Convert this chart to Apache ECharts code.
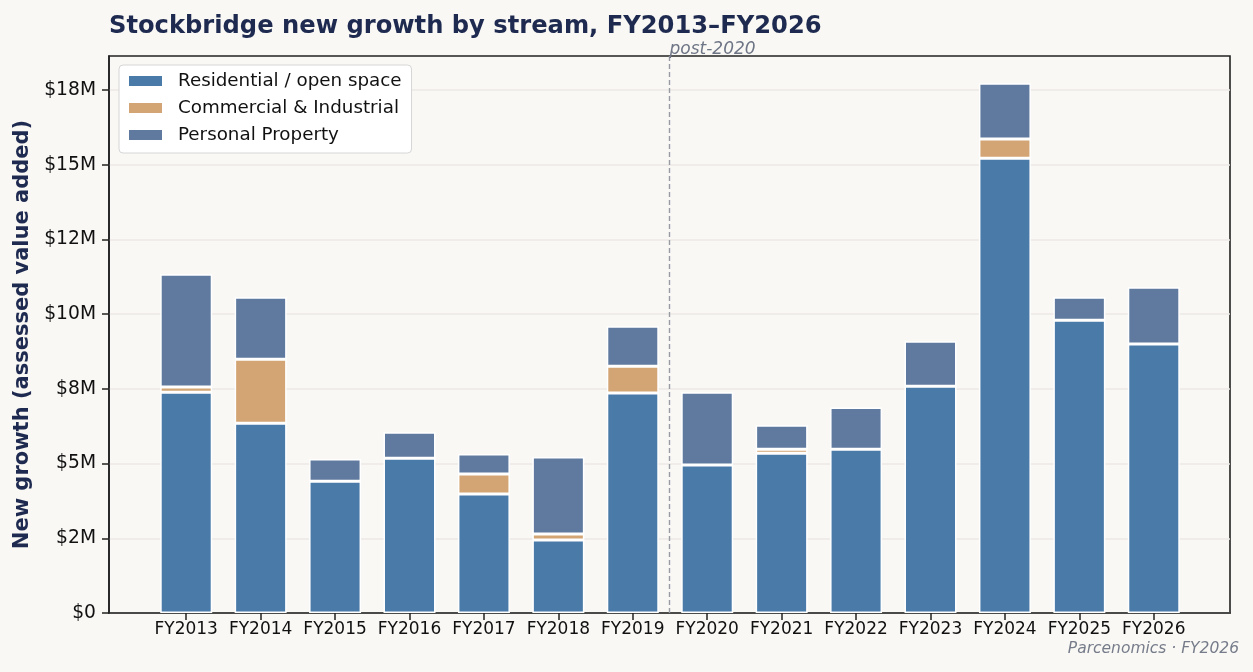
<!DOCTYPE html>
<html><head><meta charset="utf-8">
<script src="https://cdn.jsdelivr.net/npm/echarts@6/dist/echarts.min.js"></script>
<style>html,body{margin:0;padding:0;background:#f9f8f5;}#c{width:1253px;height:672px;}</style>
</head><body><div id="c"></div>
<script>
const categories = ['FY2013','FY2014','FY2015','FY2016','FY2017','FY2018','FY2019','FY2020','FY2021','FY2022','FY2023','FY2024','FY2025','FY2026'];
const residential = [7.39, 6.35, 4.41, 5.18, 3.98, 2.44, 7.36, 4.95, 5.35, 5.48, 7.59, 15.22, 9.80, 9.00];
const commercial  = [0.17, 2.14, 0, 0, 0.67, 0.20, 0.90, 0, 0.13, 0, 0, 0.64, 0, 0];
const personal    = [3.78, 2.08, 0.74, 0.87, 0.67, 2.58, 1.34, 2.44, 0.80, 1.40, 1.50, 1.87, 0.77, 1.90];
const yTickValues = [0, 2.5, 5, 7.5, 10, 12.5, 15, 17.5];
const yTickLabels = ['$0','$2M','$5M','$8M','$10M','$12M','$15M','$18M'];
const seriesNames = ['Residential / open space','Commercial & Industrial','Personal Property'];
const colors = ['#4a7aa8','#d3a574','#5f7a9e'];
const dividerAt = 6.5;
const dividerLabel = 'post-2020';
const yMax = 18.64;

const chart = echarts.init(document.getElementById('c'));
function mk(name, vals, color) {
  return {
    name, type: 'bar', stack: 'g', barWidth: 52, xAxisIndex: 0, yAxisIndex: 0,
    data: vals.map(v => v === 0 ? '-' : v),
    itemStyle: { color, borderColor: '#ffffff', borderWidth: 1.5 },
    emphasis: { disabled: true }
  };
}
chart.setOption({
  backgroundColor: '#f9f8f5',
  animation: false,
  textStyle: { fontFamily: 'DejaVu Sans' },
  title: {
    text: 'Stockbridge new growth by stream, FY2013\u2013FY2026',
    left: 104, top: 10,
    textStyle: { fontSize: 24.2, fontWeight: 'bold', color: '#1e2a4f', fontFamily: 'DejaVu Sans' }
  },
  legend: {
    left: 119, top: 65, orient: 'vertical', itemGap: 9,
    itemWidth: 35, itemHeight: 12, icon: 'rect',
    backgroundColor: '#ffffff', borderColor: '#d6d6d6', borderWidth: 1, borderRadius: 4,
    padding: [7, 10, 9, 8],
    textStyle: { fontSize: 18.3, color: '#111', fontFamily: 'DejaVu Sans', padding: [0, 0, 0, 10] },
    data: seriesNames
  },
  grid: [
    { left: 149, right: 62, top: 56, bottom: 59 },
    { left: 109, right: 23, top: 56, bottom: 59, show: true, borderColor: '#222222', borderWidth: 1.6, backgroundColor: 'transparent' }
  ],
  xAxis: [
    {
      type: 'category', gridIndex: 0, data: categories,
      axisLine: { show: false },
      axisTick: { show: true, alignWithLabel: true, length: 7, lineStyle: { color: '#222', width: 1.5 } },
      axisLabel: { fontSize: 17, color: '#111', margin: 8, fontFamily: 'DejaVu Sans', interval: 0 }
    },
    {
      type: 'value', gridIndex: 1, min: -1.035, max: 14.035, show: true,
      axisLine: { show: true, onZero: false, lineStyle: { color: '#222', width: 1.6 } },
      axisTick: { show: false }, axisLabel: { show: false }, splitLine: { show: false }
    }
  ],
  yAxis: [
    { type: 'value', gridIndex: 0, min: 0, max: yMax, show: false, splitLine: { show: false } },
    {
      type: 'value', gridIndex: 1, min: 0, max: yMax, interval: 2.5,
      name: 'New growth (assessed value added)', nameLocation: 'middle', nameGap: 76,
      nameTextStyle: { fontSize: 21, fontWeight: 'bold', color: '#1e2a4f', fontFamily: 'DejaVu Sans' },
      axisLine: { show: true, onZero: false, lineStyle: { color: '#222', width: 1.6 } },
      axisTick: { show: true, length: 7, lineStyle: { color: '#222', width: 1.5 } },
      axisLabel: { formatter: v => { const k = yTickValues.indexOf(v); return k >= 0 ? yTickLabels[k] : ''; }, fontSize: 18.7, color: '#111', margin: 13, fontFamily: 'DejaVu Sans', showMaxLabel: false },
      splitLine: { show: true, lineStyle: { color: '#ebe9e5', width: 1.5 }, showMaxLine: false }
    }
  ],
  graphic: [{
    type: 'text', right: 14, top: 641,
    style: { text: 'Parcenomics \u00b7 FY2026', fill: '#767c8a', font: 'italic 15.5px "DejaVu Sans"' }
  }],
  series: [
    mk(seriesNames[0], residential, colors[0]),
    mk(seriesNames[1], commercial, colors[1]),
    mk(seriesNames[2], personal, colors[2]),
    {
      type: 'line', xAxisIndex: 1, yAxisIndex: 1, data: [], silent: true,
      markLine: {
        silent: true, symbol: 'none',
        lineStyle: { type: [5, 3], color: '#999ba3', width: 1.4 },
        label: { show: true, position: 'end', formatter: dividerLabel, align: 'left', distance: [0, -2],
          color: '#6e7585', fontStyle: 'italic', fontSize: 17, fontFamily: 'DejaVu Sans' },
        data: [{ xAxis: dividerAt }]
      }
    }
  ]
});
</script></body></html>
